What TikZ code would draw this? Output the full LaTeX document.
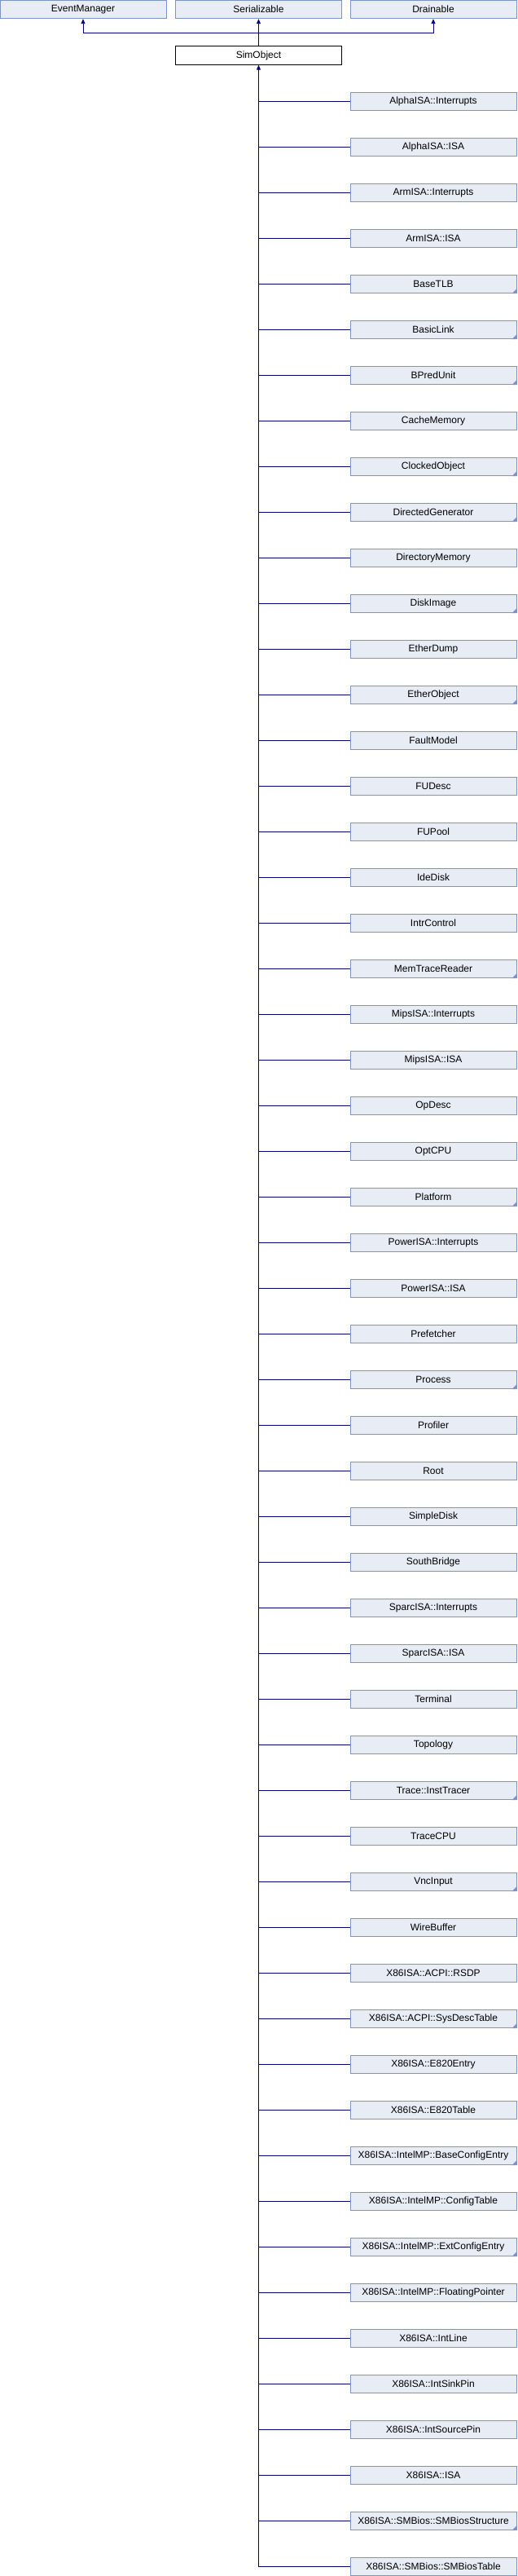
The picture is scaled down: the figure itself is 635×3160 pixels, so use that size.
\documentclass[tikz,border=0pt]{standalone}
\usepackage{fontspec}
\setmainfont{Liberation Sans}
\usetikzlibrary{arrows.meta}
\definecolor{boxfill}{RGB}{232,236,245}
\definecolor{boxline}{RGB}{124,148,200}
\definecolor{linkcol}{RGB}{0,0,128}
\tikzset{
  classbox/.style={draw=boxline,fill=boxfill,line width=0.9pt,minimum width=204pt,minimum height=22.5pt,inner sep=0pt,font=\fontsize{12}{14}\selectfont},
  thisbox/.style={classbox,draw=black,fill=white},
  link/.style={draw=linkcol,line width=0.9pt},
  inherit/.style={link,-{Triangle[width=5pt,length=6pt]}},
}
\begin{document}
\begin{tikzpicture}[x=1pt,y=-1pt]
\useasboundingbox (0,0) rectangle (635,3160);
% base classes
\node[classbox] (eventmgr) at (102,11.5) {EventManager};
\node[classbox] (serial) at (317.5,11.5) {Serializable};
\node[classbox] (drain) at (532,11.5) {Drainable};
\node[thisbox] (simobj) at (317.5,68) {SimObject};
\coordinate (bar) at (317.5,40);
\draw[inherit] (simobj.north) -- (serial.south);
\draw[inherit] (bar) -| (eventmgr.south);
\draw[inherit] (bar) -| (drain.south);
% derived classes
\foreach \name/\more [count=\i] in {
  AlphaISA::Interrupts/0, AlphaISA::ISA/0, ArmISA::Interrupts/0, ArmISA::ISA/0,
  BaseTLB/1, BasicLink/1, BPredUnit/1, CacheMemory/0, ClockedObject/1,
  DirectedGenerator/1, DirectoryMemory/0, DiskImage/1, EtherDump/0, EtherObject/1,
  FaultModel/0, FUDesc/0, FUPool/0, IdeDisk/0, IntrControl/0, MemTraceReader/1,
  MipsISA::Interrupts/0, MipsISA::ISA/0, OpDesc/0, OptCPU/0, Platform/1,
  PowerISA::Interrupts/0, PowerISA::ISA/0, Prefetcher/0, Process/1, Profiler/0,
  Root/0, SimpleDisk/0, SouthBridge/0, SparcISA::Interrupts/0, SparcISA::ISA/0,
  Terminal/0, Topology/0, Trace::InstTracer/1, TraceCPU/0, VncInput/1,
  WireBuffer/0, X86ISA::ACPI::RSDP/0, X86ISA::ACPI::SysDescTable/1,
  X86ISA::E820Entry/0, X86ISA::E820Table/0, X86ISA::IntelMP::BaseConfigEntry/1,
  X86ISA::IntelMP::ConfigTable/0, X86ISA::IntelMP::ExtConfigEntry/1,
  X86ISA::IntelMP::FloatingPointer/0, X86ISA::IntLine/0, X86ISA::IntSinkPin/0,
  X86ISA::IntSourcePin/0, X86ISA::ISA/0, X86ISA::SMBios::SMBiosStructure/1,
  X86ISA::SMBios::SMBiosTable/0} {
  \node[classbox] (c\i) at (532,68.5+56*\i) {\name};
  \draw[link] (c\i.west) -- (c\i.west -| simobj.south);
  \ifnum\more=1
    \fill[boxline] (c\i.south east) -- ++(-6,0) -- ++(6,-6) -- cycle;
  \fi
}
\coordinate (trunkend) at (simobj.south |- c55.west);
\draw[inherit] (trunkend) -- (simobj.south);
\end{tikzpicture}
\end{document}
